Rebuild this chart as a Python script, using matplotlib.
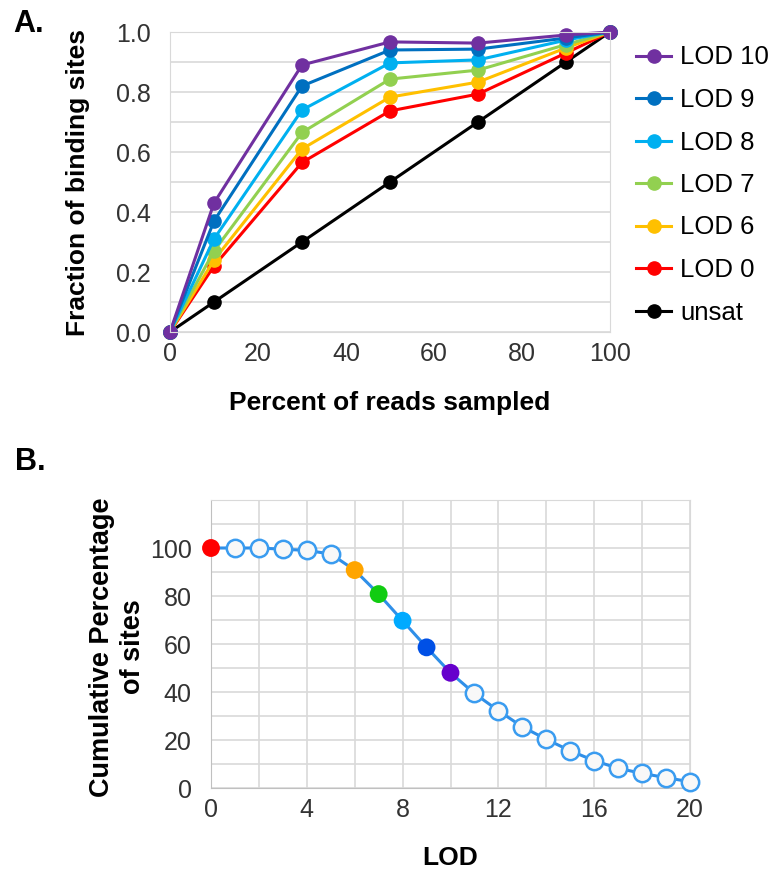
import matplotlib
matplotlib.use("Agg")
import matplotlib.pyplot as plt
from matplotlib.ticker import MultipleLocator

plt.rcParams["font.family"] = ["Liberation Sans", "DejaVu Sans"]

# ── Panel A data ─────────────────────────────────────────────────────────────
pct_sampled = [0, 10, 30, 50, 70, 90, 100]
lod10 = [0, 0.43, 0.89, 0.967, 0.963, 0.99, 1.0]
lod9  = [0, 0.37, 0.82, 0.94, 0.943, 0.98, 1.0]
lod8  = [0, 0.31, 0.74, 0.897, 0.907, 0.973, 1.0]
lod7  = [0, 0.27, 0.665, 0.843, 0.873, 0.958, 1.0]
lod6  = [0, 0.24, 0.61, 0.783, 0.833, 0.947, 1.0]
lod0  = [0, 0.22, 0.565, 0.737, 0.793, 0.93, 1.0]
unsat = [0, 0.1, 0.3, 0.5, 0.7, 0.9, 1.0]

series_a = [("LOD 10", lod10, "#7030a0"),
            ("LOD 9",  lod9,  "#0070c0"),
            ("LOD 8",  lod8,  "#00b0f0"),
            ("LOD 7",  lod7,  "#92d050"),
            ("LOD 6",  lod6,  "#ffc000"),
            ("LOD 0",  lod0,  "#ff0000"),
            ("unsat",  unsat, "#000000")]

# ── Panel B data ─────────────────────────────────────────────────────────────
lod_vals = list(range(21))
cum_pct  = [100, 100, 100, 99.5, 99, 97.5, 90.8, 80.8, 69.7, 58.6, 48,
            39.4, 32.2, 25.5, 20.3, 15.5, 11.4, 8.2, 6.1, 4.3, 2.6]
hl_lod    = [0, 6, 7, 8, 9, 10]
hl_colors = ["#ff0000", "#ffa500", "#11cc11", "#00aaff", "#0050e6", "#6600cc"]

TICK_C = "#333333"
GRID_C = "#d9d9d9"

fig = plt.figure(figsize=(7.76, 8.71), dpi=100)

# ── A ────────────────────────────────────────────────────────────────────────
axA = fig.add_axes([170/776, 1-332/871, 440/776, 300/871])
handles = {}
for name, vals, col in reversed(series_a):
    ln, = axA.plot(pct_sampled, vals, color=col, lw=2.2, marker="o",
                   ms=9.5, clip_on=False, label=name)
    handles[name] = ln
axA.set_xlim(0, 100)
axA.set_ylim(0, 1.0)
axA.set_xticks(range(0, 101, 20))
axA.set_yticks([0, 0.2, 0.4, 0.6, 0.8, 1.0])
axA.set_yticklabels([f"{v:.1f}" for v in [0, 0.2, 0.4, 0.6, 0.8, 1.0]])
axA.yaxis.set_minor_locator(MultipleLocator(0.1))
axA.grid(axis="y", which="both", color=GRID_C, lw=1.2)
axA.set_axisbelow(True)
for s in axA.spines.values():
    s.set_color(GRID_C)
axA.tick_params(length=0, labelsize=18, labelcolor=TICK_C)
axA.tick_params(axis="y", which="both", length=0, pad=14)
axA.tick_params(axis="x", pad=7)
axA.set_xlabel("Percent of reads sampled", fontsize=19, fontweight="bold")
axA.xaxis.set_label_coords(0.5, -0.198)
axA.set_ylabel("Fraction of binding sites", fontsize=19, fontweight="bold",
               va="center")
axA.yaxis.set_label_coords(-0.21, 0.5)

axA.legend([handles[n] for n, _, _ in series_a], [n for n, _, _ in series_a],
           loc="upper left", bbox_to_anchor=(1.058, 0.955), frameon=False,
           fontsize=18.5, handlelength=1.4, handletextpad=0.35,
           labelspacing=0.72, borderpad=0, borderaxespad=0)

fig.text(13/776, 1-32/871, "A.", fontsize=22, fontweight="bold")

# ── B ────────────────────────────────────────────────────────────────────────
axB = fig.add_axes([211/776, 1-788/871, 479/776, 288/871])
open_lod = [x for x in lod_vals if x not in hl_lod]
axB.plot(lod_vals, cum_pct, color="#2f8fe8", lw=2.2, clip_on=False, zorder=2)
axB.plot(open_lod, [cum_pct[i] for i in open_lod], ls="none", marker="o",
         ms=12.5, mfc="#f8f8f8", mec="#3a9cf0", mew=1.8, clip_on=False,
         zorder=3)
axB.scatter(hl_lod, [cum_pct[i] for i in hl_lod], s=165, c=hl_colors,
            edgecolors="none", zorder=4, clip_on=False)
axB.set_xlim(0, 20)
axB.set_ylim(0, 120)
axB.set_xticks(range(0, 21, 4))
axB.set_yticks(range(0, 101, 20))
axB.xaxis.set_minor_locator(MultipleLocator(2))
axB.yaxis.set_minor_locator(MultipleLocator(10))
axB.grid(which="both", color=GRID_C, lw=1.2)
axB.set_axisbelow(True)
for s in axB.spines.values():
    s.set_color(GRID_C)
axB.spines["left"].set_color("#c0c0c0")
axB.spines["bottom"].set_color("#c0c0c0")
axB.tick_params(which="both", length=0, labelsize=18, labelcolor=TICK_C)
axB.tick_params(axis="y", pad=14)
axB.tick_params(axis="x", pad=7)
axB.set_xlabel("LOD", fontsize=19, fontweight="bold")
axB.xaxis.set_label_coords(0.5, -0.2)
axB.set_ylabel("Cumulative Percentage\nof sites", fontsize=19.5,
               fontweight="bold", va="center", linespacing=1.25)
axB.yaxis.set_label_coords(-0.196, 0.49)

fig.text(15/776, 1-470/871, "B.", fontsize=22, fontweight="bold")

fig.savefig("out.png", dpi=100)
